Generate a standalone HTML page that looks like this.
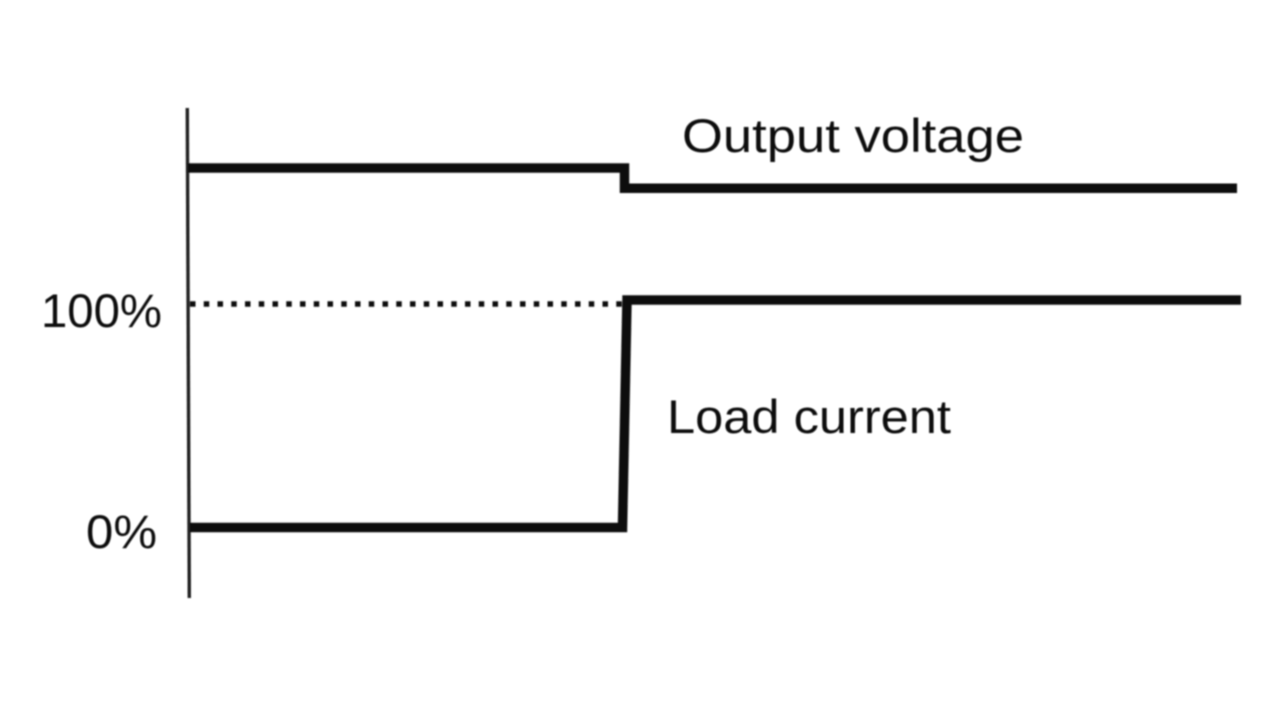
<!DOCTYPE html>
<html>
<head>
<meta charset="utf-8">
<style>
html,body{margin:0;padding:0;background:#fff;width:1280px;height:719px;overflow:hidden}
svg{display:block}
text{font-family:"Liberation Sans",sans-serif;font-size:47px;fill:#111}
</style>
</head>
<body>
<svg width="1280" height="719" viewBox="0 0 1280 719" xmlns="http://www.w3.org/2000/svg">
<defs><filter id="b" x="-5%" y="-5%" width="110%" height="110%"><feGaussianBlur stdDeviation="0.7"/></filter></defs>
<rect width="1280" height="719" fill="#fff"/>
<g filter="url(#b)">
<line x1="187.3" y1="108" x2="189.3" y2="598" stroke="#222" stroke-width="3.4"/>
<polyline points="188,168 624.5,168 624.5,188.3 1237,188.3" fill="none" stroke="#111" stroke-width="9.5" stroke-linejoin="miter"/>
<polyline points="190,527.5 622.5,527.5 627,300 1241,300" fill="none" stroke="#111" stroke-width="9.5" stroke-linejoin="miter"/>
<line x1="190" y1="304" x2="622" y2="304" stroke="#111" stroke-width="5.5" stroke-dasharray="5.5 8.25"/>
<text x="682" y="152" textLength="342" lengthAdjust="spacingAndGlyphs">Output voltage</text>
<text x="667" y="433" textLength="284" lengthAdjust="spacingAndGlyphs">Load current</text>
<text x="41" y="327" textLength="121" lengthAdjust="spacingAndGlyphs">100%</text>
<text x="86" y="548" textLength="71" lengthAdjust="spacingAndGlyphs">0%</text>
</g>
</svg>
</body>
</html>
